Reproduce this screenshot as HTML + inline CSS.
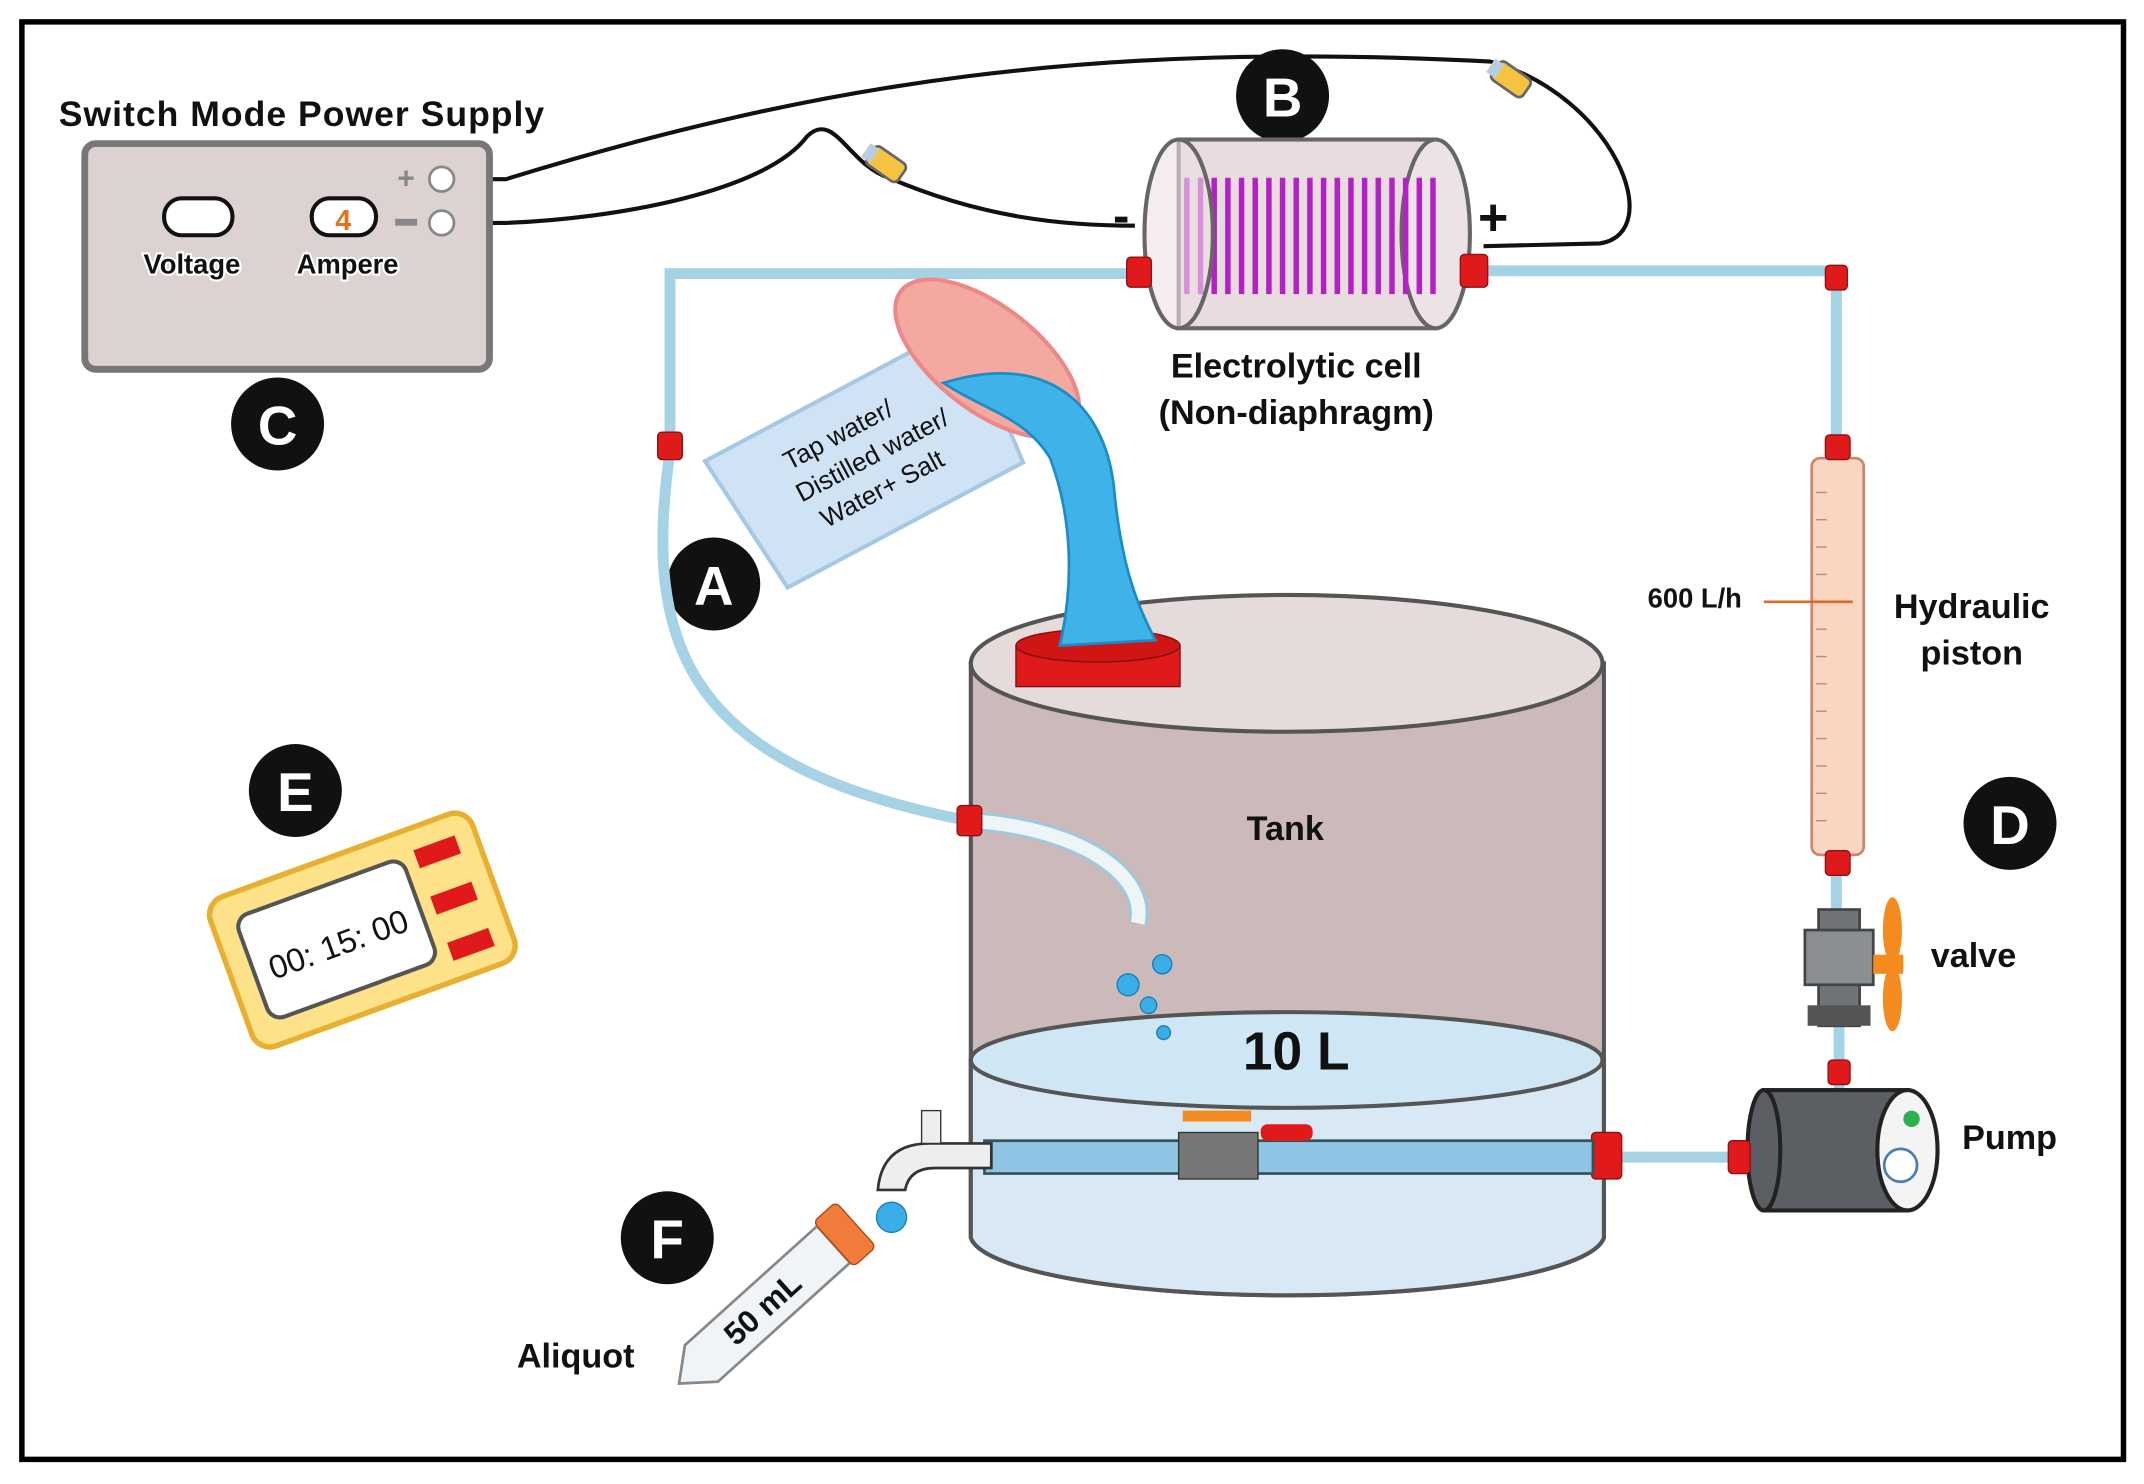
<!DOCTYPE html>
<html><head><meta charset="utf-8"><style>
html,body{margin:0;padding:0;background:#fff}
svg{display:block}
text{font-family:"Liberation Sans","DejaVu Sans",sans-serif;font-weight:bold;fill:#111}
</style></head><body>
<svg width="2144" height="1484" viewBox="0 0 1568 1085" preserveAspectRatio="none" xmlns="http://www.w3.org/2000/svg">
<rect x="0" y="0" width="1568" height="1085" fill="#fff"/>
<rect x="16" y="16" width="1537" height="1051" fill="none" stroke="#000" stroke-width="4"/>

<!-- wires -->
<path d="M332,131 L370,131 C600,60 800,30 1090,45 C1180,70 1220,170 1170,178 L1085,180" fill="none" stroke="#111" stroke-width="3"/>
<path d="M332,163 L370,163 C450,160 560,140 590,100 C610,80 620,120 650,130 C720,160 780,165 830,165" fill="none" stroke="#111" stroke-width="3"/>
<g transform="translate(648,120) rotate(35)"><rect x="-14" y="-8" width="28" height="16" rx="4" fill="#f5c242" stroke="#666" stroke-width="2"/><rect x="-18" y="-6" width="8" height="12" fill="#bcd" /></g>
<g transform="translate(1105,58) rotate(35)"><rect x="-14" y="-8" width="28" height="16" rx="4" fill="#f5c242" stroke="#666" stroke-width="2"/><rect x="-18" y="-6" width="8" height="12" fill="#bcd"/></g>

<!-- power supply -->
<text x="43" y="92" font-size="26" textLength="355">Switch Mode Power Supply</text>
<rect x="62" y="105" width="296" height="165" rx="8" fill="#dcd2d0" stroke="#777" stroke-width="5"/>
<rect x="120" y="145" width="50" height="27" rx="13" fill="#fff" stroke="#111" stroke-width="3"/>
<rect x="228" y="145" width="47" height="27" rx="13" fill="#fff" stroke="#111" stroke-width="3"/>
<text x="251" y="168" font-size="21" text-anchor="middle" style="fill:#e8721c">4</text>
<text x="105" y="200" font-size="20" style="stroke:#fff;stroke-width:3;paint-order:stroke">Voltage</text>
<text x="217" y="200" font-size="20" style="stroke:#fff;stroke-width:3;paint-order:stroke">Ampere</text>
<text x="297" y="138" font-size="22" text-anchor="middle" style="fill:#888">+</text>
<rect x="289" y="160" width="16" height="5" fill="#888"/>
<circle cx="323" cy="131" r="9" fill="#fff" stroke="#888" stroke-width="2"/>
<circle cx="323" cy="163" r="9" fill="#fff" stroke="#888" stroke-width="2"/>

<!-- labels circles -->
<g font-size="40">
<circle cx="203" cy="310" r="34" fill="#111"/><text x="203" y="325" text-anchor="middle" style="fill:#fff">C</text>
<circle cx="938" cy="70" r="34" fill="#111"/><text x="938" y="85" text-anchor="middle" style="fill:#fff">B</text>
<circle cx="522" cy="427" r="34" fill="#111"/><text x="522" y="442" text-anchor="middle" style="fill:#fff">A</text>
<circle cx="1470" cy="602" r="34" fill="#111"/><text x="1470" y="617" text-anchor="middle" style="fill:#fff">D</text>
<circle cx="216" cy="578" r="34" fill="#111"/><text x="216" y="593" text-anchor="middle" style="fill:#fff">E</text>
<circle cx="488" cy="905" r="34" fill="#111"/><text x="488" y="920" text-anchor="middle" style="fill:#fff">F</text>
</g>

<!-- pipes -->
<g fill="none" stroke="#a6d2e5" stroke-width="8">
<path d="M835,200 L490,200 L490,330 C470,470 500,560 708,600"/>
<path d="M1080,198 L1343,198 L1343,335"/>
<path d="M1343,625 L1343,665"/>
<path d="M1345,750 L1345,800"/>
<path d="M1175,846 L1280,846"/>
</g>

<!-- electrolytic cell -->
<rect x="862" y="102" width="188" height="138" fill="#e9dcdf" stroke="#666" stroke-width="3"/>
<ellipse cx="1050" cy="171" rx="25" ry="69" fill="#ede3e5" stroke="#666" stroke-width="3"/>
<g stroke="#b51fc7" stroke-width="4">
<line x1="868" y1="130" x2="868" y2="215"/><line x1="878" y1="130" x2="878" y2="215"/><line x1="888" y1="130" x2="888" y2="215"/><line x1="898" y1="130" x2="898" y2="215"/><line x1="908" y1="130" x2="908" y2="215"/><line x1="918" y1="130" x2="918" y2="215"/><line x1="928" y1="130" x2="928" y2="215"/><line x1="938" y1="130" x2="938" y2="215"/><line x1="948" y1="130" x2="948" y2="215"/><line x1="958" y1="130" x2="958" y2="215"/><line x1="968" y1="130" x2="968" y2="215"/><line x1="978" y1="130" x2="978" y2="215"/><line x1="988" y1="130" x2="988" y2="215"/><line x1="998" y1="130" x2="998" y2="215"/><line x1="1008" y1="130" x2="1008" y2="215"/><line x1="1018" y1="130" x2="1018" y2="215"/><line x1="1028" y1="130" x2="1028" y2="215"/><line x1="1038" y1="130" x2="1038" y2="215"/><line x1="1048" y1="130" x2="1048" y2="215"/>
</g>
<ellipse cx="862" cy="171" rx="25" ry="69" fill="#ecdfe2" fill-opacity="0.6" stroke="#666" stroke-width="3"/>
<text x="820" y="170" font-size="36" text-anchor="middle">-</text>
<text x="1092" y="172" font-size="38" text-anchor="middle">+</text>
<text x="948" y="276" font-size="25" text-anchor="middle">Electrolytic cell</text>
<text x="948" y="310" font-size="25" text-anchor="middle">(Non-diaphragm)</text>

<!-- hydraulic piston -->
<rect x="1325" y="335" width="38" height="290" rx="6" fill="#f9d6c2" stroke="#c9876a" stroke-width="2"/>
<g stroke="#c9876a" stroke-width="1">
<path d="M1328,360h8M1328,380h8M1328,400h8M1328,420h8M1328,460h8M1328,480h8M1328,500h8M1328,520h8M1328,540h8M1328,560h8M1328,580h8M1328,600h8"/>
</g>
<line x1="1290" y1="440" x2="1355" y2="440" stroke="#e06a20" stroke-width="2"/>
<text x="1205" y="444" font-size="20">600 L/h</text>
<text x="1442" y="452" font-size="25" text-anchor="middle">Hydraulic</text>
<text x="1442" y="486" font-size="25" text-anchor="middle">piston</text>

<!-- valve -->
<rect x="1330" y="665" width="30" height="85" fill="#6f7479" stroke="#444" stroke-width="2"/>
<rect x="1320" y="680" width="50" height="40" fill="#8a8f94" stroke="#444" stroke-width="2"/>
<rect x="1322" y="735" width="46" height="15" fill="#555"/>
<rect x="1370" y="698" width="22" height="14" fill="#f58a1f"/>
<ellipse cx="1384" cy="680" rx="7" ry="24" fill="#f58a1f"/>
<ellipse cx="1384" cy="730" rx="7" ry="24" fill="#f58a1f"/>
<text x="1412" y="707" font-size="25">valve</text>

<!-- pump -->
<rect x="1290" y="797" width="105" height="88" fill="#5b5f63" stroke="#222" stroke-width="3"/>
<ellipse cx="1290" cy="841" rx="12" ry="44" fill="#5b5f63" stroke="#222" stroke-width="3"/>
<ellipse cx="1395" cy="841" rx="22" ry="44" fill="#f4f4f4" stroke="#222" stroke-width="3"/>
<circle cx="1398" cy="818" r="6" fill="#2bb24c"/>
<circle cx="1390" cy="852" r="12" fill="#fff" stroke="#4a7fb5" stroke-width="2"/>
<text x="1435" y="840" font-size="25">Pump</text>

<!-- tank -->
<path d="M710,485 L710,905 A232,45 0 0 0 1173,905 L1173,485 Z" fill="#ccbaba" stroke="#555" stroke-width="3"/>
<path d="M710,775 L710,905 A232,45 0 0 0 1173,905 L1173,775 Z" fill="#d8e9f5" stroke="#555" stroke-width="3"/>
<ellipse cx="941" cy="775" rx="231" ry="35" fill="#cfe6f4" stroke="#555" stroke-width="3"/>
<ellipse cx="941" cy="485" rx="231" ry="50" fill="#e5dbdb" stroke="#555" stroke-width="3"/>
<text x="940" y="614" font-size="25" text-anchor="middle">Tank</text>
<text x="948" y="782" font-size="39" text-anchor="middle">10 L</text>
<!-- red cap -->
<rect x="743" y="472" width="120" height="30" fill="#e01a1a" stroke="#801010"/>
<ellipse cx="803" cy="472" rx="60" ry="12" fill="#d01515" stroke="#801010"/>

<!-- inner hose -->
<path d="M708,600 C790,605 840,640 832,675" fill="none" stroke="#9cc9e0" stroke-width="14"/>
<path d="M708,600 C790,605 840,640 832,675" fill="none" stroke="#eef5f9" stroke-width="10"/>

<!-- red connectors -->
<g fill="#e01a1a" stroke="#901010" stroke-width="1">
<rect x="824" y="188" width="18" height="22" rx="3"/>
<rect x="1068" y="186" width="20" height="24" rx="3"/>
<rect x="1335" y="194" width="16" height="18" rx="3"/>
<rect x="481" y="316" width="18" height="20" rx="3"/>
<rect x="700" y="589" width="18" height="22" rx="3"/>
<rect x="1335" y="318" width="18" height="18" rx="3"/>
<rect x="1335" y="622" width="18" height="18" rx="3"/>
<rect x="1337" y="775" width="16" height="18" rx="3"/>
<rect x="1264" y="834" width="16" height="24" rx="3"/>
<rect x="1164" y="828" width="22" height="34" rx="3"/>
</g>

<!-- jug & water -->
<g transform="translate(645,325) rotate(-28)">
<path d="M-120,-50 L95,-50 L85,60 L-110,60 Z" fill="#cfe3f4" stroke="#a6c8e4" stroke-width="3"/>
<text x="-25" y="-15" font-size="19" text-anchor="middle" style="font-weight:normal">Tap water/</text>
<text x="-10" y="10" font-size="19" text-anchor="middle" style="font-weight:normal">Distilled water/</text>
<text x="-15" y="35" font-size="19" text-anchor="middle" style="font-weight:normal">Water+ Salt</text>
</g>
<ellipse cx="722" cy="262" rx="80" ry="38" transform="rotate(38 722 262)" fill="#f4a9a0" stroke="#e88" stroke-width="3"/>
<path d="M690,280 C770,255 810,300 815,360 C820,410 830,440 845,468 L775,472 C785,430 785,380 768,335 C750,305 720,300 690,280 Z" fill="#3fb3e8" stroke="#1c8cc8" stroke-width="2"/>

<!-- drops -->
<g fill="#3aaee6" stroke="#1a7fb8">
<circle cx="825" cy="720" r="8"/><circle cx="850" cy="705" r="7"/><circle cx="840" cy="735" r="6"/><circle cx="851" cy="755" r="5"/><circle cx="652" cy="890" r="11"/>
</g>

<!-- inner pipe and faucet -->
<rect x="720" y="834" width="445" height="24" fill="#8fc4e4" stroke="#355" stroke-width="2"/>
<rect x="862" y="828" width="58" height="34" fill="#777" stroke="#333"/>
<rect x="865" y="812" width="50" height="8" fill="#f58a1f"/>
<rect x="922" y="822" width="38" height="12" rx="5" fill="#e01a1a"/>
<path d="M725,836 L680,836 Q645,836 642,870 L662,870 Q665,854 684,854 L725,854 Z" fill="#eee" stroke="#333" stroke-width="2"/>
<rect x="674" y="812" width="14" height="24" fill="#eee" stroke="#333"/>

<!-- timer -->
<g transform="translate(265,680) rotate(-20)">
<rect x="-102" y="-58" width="204" height="116" rx="14" fill="#fde28a" stroke="#e8b030" stroke-width="4"/>
<rect x="-85" y="-40" width="130" height="80" rx="10" fill="#fff" stroke="#555" stroke-width="3"/>
<text x="-20" y="12" font-size="24" text-anchor="middle" style="font-weight:normal">00: 15: 00</text>
<rect x="55" y="-42" width="32" height="14" fill="#e01a1a"/><rect x="55" y="-6" width="32" height="14" fill="#e01a1a"/><rect x="55" y="30" width="32" height="14" fill="#e01a1a"/>
</g>

<!-- test tube -->
<g transform="translate(565,950) rotate(-42)">
<path d="M-70,-18 L60,-18 L60,18 L-70,18 L-92,0 Z" fill="#eef4f8" stroke="#888" stroke-width="2"/>
<rect x="60" y="-22" width="22" height="44" rx="4" fill="#f07b3a" stroke="#b04a10"/>
<text x="-10" y="8" font-size="23" text-anchor="middle">50 mL</text>
</g>
<text x="378" y="1000" font-size="25">Aliquot</text>
</svg>
</body></html>
